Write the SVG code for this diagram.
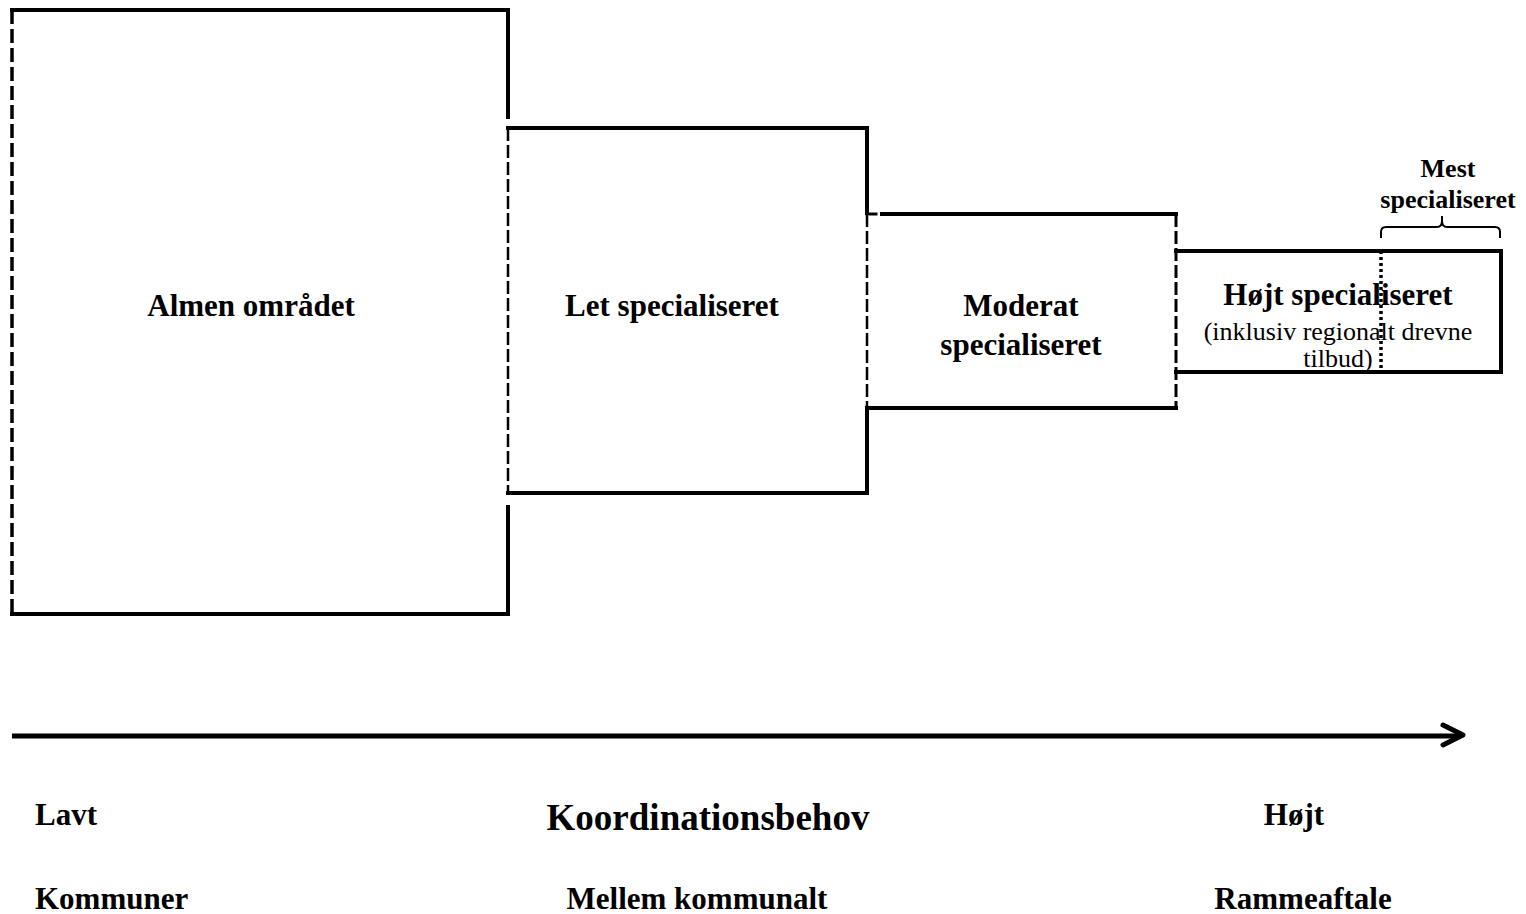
<svg xmlns="http://www.w3.org/2000/svg" width="1526" height="914" viewBox="0 0 1526 914">
<style>
.s{fill:none;stroke:#000;stroke-width:4;stroke-linecap:square}
.d{fill:none;stroke:#000;stroke-width:3.5;stroke-dasharray:14 5}
.dt{fill:none;stroke:#000;stroke-width:2.5;stroke-dasharray:13 4}
.dot{fill:none;stroke:#000;stroke-width:3.5;stroke-dasharray:3 3}
text{font-family:"Liberation Serif","Times New Roman",serif;fill:#000}
.b{font-weight:bold;font-size:31px}
.sm{font-size:26px}
.sb{font-weight:bold;font-size:26px}
.big{font-weight:bold;font-size:37px}
</style>
<rect width="1526" height="914" fill="#fff"/>
<g id="almen">
<path class="s" d="M12,10 H508 V117 M508,507 V614 H12"/>
<path class="d" d="M12,10 V614"/>
<text class="b" x="251" y="316" text-anchor="middle">Almen området</text>
</g>
<g id="let">
<path class="s" d="M508,128 H867 V213 M867,408 V493 H508"/>
<path class="dt" d="M508,128 V493"/>
<text class="b" x="672" y="316" text-anchor="middle">Let specialiseret</text>
</g>
<g id="moderat">
<path class="s" d="M882,214 H1176 M867,408 H1176"/>
<path class="s" style="stroke-width:3" d="M870,214 H876"/>
<path class="dt" d="M867,214 V408"/>
<path class="dt" style="stroke-width:3" d="M1176,214 V408"/>
<text class="b" x="1021" y="316" text-anchor="middle">Moderat</text>
<text class="b" x="1021" y="355" text-anchor="middle">specialiseret</text>
</g>
<g id="hojt">
<path class="s" d="M1176,251 H1501 V372 H1176"/>
<path class="dot" d="M1381,251 V372"/>
<text class="b" x="1338" y="305" text-anchor="middle">Højt specialiseret</text>
<text class="sm" x="1338" y="340" text-anchor="middle">(inklusiv regionalt drevne</text>
<text class="sm" x="1338" y="367" text-anchor="middle">tilbud)</text>
</g>
<g id="mest">
<path fill="none" stroke="#000" stroke-width="2" d="M1381,238 V232 Q1381,227 1386,227 H1437 Q1442,227 1442,221 V216 M1442,221 Q1442,227 1447,227 H1495 Q1500,227 1500,232 V238"/>
<text class="sb" x="1448" y="177" text-anchor="middle">Mest</text>
<text class="sb" x="1448" y="208" text-anchor="middle">specialiseret</text>
</g>
<g id="connectors">
<path fill="none" stroke="#000" stroke-width="5" d="M12,736 H1460"/>
<path fill="none" stroke="#000" stroke-width="5" stroke-linecap="round" stroke-linejoin="round" d="M1443,725 L1463,735 L1443,745"/>
</g>
<g id="labels">
<text class="b" x="35" y="825">Lavt</text>
<text class="big" x="708" y="830" text-anchor="middle">Koordinationsbehov</text>
<text class="b" x="1294" y="825" text-anchor="middle">Højt</text>
<text class="b" x="35" y="909">Kommuner</text>
<text class="b" x="697" y="909" text-anchor="middle">Mellem kommunalt</text>
<text class="b" x="1303" y="909" text-anchor="middle">Rammeaftale</text>
</g>
</svg>
